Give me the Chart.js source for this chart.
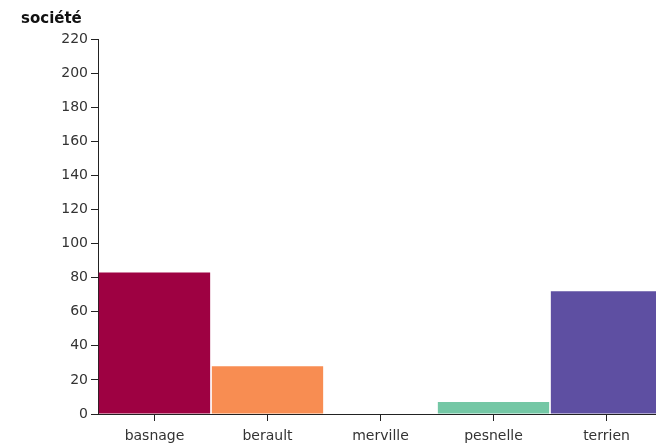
<!DOCTYPE html>
<html>
<head>
<meta charset="utf-8">
<script src="https://cdn.jsdelivr.net/npm/chart.js@4"></script>
<style>
  html, body { margin: 0; padding: 0; background: #fff; overflow: hidden; }
  #wrap { width: 663px; height: 446px; position: relative; }
</style>
</head>
<body>
<div id="wrap"><canvas id="chart"></canvas></div>
<script>
const societes = ['basnage', 'berault', 'merville', 'pesnelle', 'terrien'];
const valeurs = [83, 28, 0, 7, 72];
const couleurs = ['#9e0142', '#f88d52', '#74c7a5', '#74c7a5', '#5e4fa2'];
const yTicks = [0, 20, 40, 60, 80, 100, 120, 140, 160, 180, 200, 220];

const font = { family: 'DejaVu Sans', size: 14 };

new Chart(document.getElementById('chart'), {
    type: 'bar',
    data: {
        labels: societes,
        datasets: [{
            label: 'société',
            data: valeurs,
            backgroundColor: couleurs,
            barPercentage: 1,
            categoryPercentage: 0.985
        }]
    },
    options: {
        responsive: true,
        maintainAspectRatio: false,
        animation: false,
        layout: { padding: { left: 21, right: 0, top: 0, bottom: 3 } },
        plugins: {
            legend: { display: false },
            tooltip: { enabled: false },
            title: {
                display: true,
                text: 'société',
                align: 'start',
                color: '#111',
                font: { family: 'DejaVu Sans', size: 15, weight: 'bold' },
                padding: { top: 10, bottom: 11 }
            }
        },
        scales: {
            x: {
                offset: true,
                afterFit: scale => { scale.height = 29; },
                grid: { drawOnChartArea: false, offset: false, tickLength: 7, color: '#222' },
                border: { display: true, color: '#222' },
                ticks: { color: '#333', font, padding: 7 }
            },
            y: {
                min: 0,
                max: 220,
                afterFit: scale => { scale.width = 77; },
                afterBuildTicks: scale => { scale.ticks = yTicks.map(v => ({ value: v })); },
                grid: { drawOnChartArea: false, tickLength: 7, color: '#222' },
                border: { display: true, color: '#222' },
                ticks: { color: '#333', font, padding: 3 }
            }
        }
    }
});
</script>
</body>
</html>
